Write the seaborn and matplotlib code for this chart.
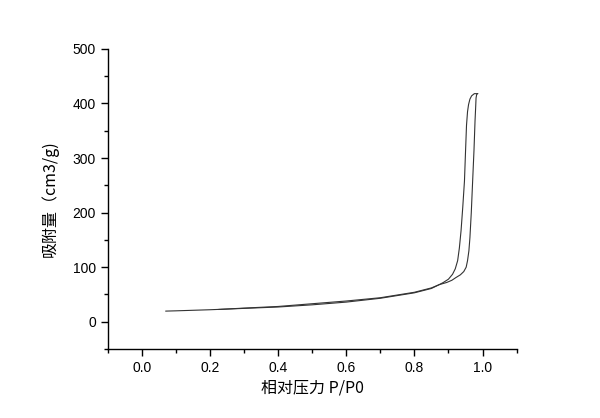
import matplotlib
matplotlib.use("Agg")
import matplotlib.pyplot as plt
import seaborn as sns
import pandas as pd
from matplotlib.ticker import MultipleLocator

ads_x = [0.07, 0.10, 0.20, 0.30, 0.40, 0.50, 0.60, 0.70, 0.80, 0.85, 0.873, 0.895, 0.91, 0.922, 0.935, 0.945,
         0.952, 0.956, 0.960, 0.963, 0.967, 0.971, 0.975, 0.978, 0.980, 0.981, 0.983, 0.986]
ads_y = [19.5, 20, 22, 24.5, 27, 31, 36, 43, 53, 61, 68, 72, 76, 81, 86, 92,
         100, 112, 130, 154, 200, 258, 315, 368, 395, 410, 417, 418]
des_x = [0.986, 0.976, 0.968, 0.963, 0.959, 0.956, 0.953, 0.950, 0.947, 0.942, 0.937, 0.932, 0.927, 0.920,
         0.912, 0.900, 0.885, 0.873, 0.85, 0.80, 0.70, 0.60, 0.50, 0.40, 0.30, 0.225]
des_y = [418, 418, 414, 408, 398, 385, 360, 310, 258, 210, 167, 135, 112, 97,
         87, 78, 72, 68, 62, 54, 44, 38, 33, 28, 25, 22.5]

xlabel = "相对压力 P/P0"
ylabel = "吸附量（cm3/g)"

sns.set_theme(style="ticks")
plt.rcParams['font.family'] = ['Liberation Sans', 'Noto Sans CJK SC', 'DejaVu Sans']

fig = plt.figure(figsize=(6, 4.18), dpi=100)
ax = fig.add_axes([0.1795, 0.165, 0.6815, 0.718])

ads = pd.DataFrame({"x": ads_x, "y": ads_y})
des = pd.DataFrame({"x": des_x, "y": des_y})
sns.lineplot(data=ads, x="x", y="y", sort=False, ax=ax, color="#333333", linewidth=0.8)
sns.lineplot(data=des, x="x", y="y", sort=False, ax=ax, color="#333333", linewidth=0.8)

ax.set_xlim(-0.1, 1.1)
ax.set_ylim(-50, 500)
ax.xaxis.set_minor_locator(MultipleLocator(0.1))
ax.yaxis.set_major_locator(MultipleLocator(100))
ax.yaxis.set_minor_locator(MultipleLocator(50))
ax.set_xticks([0.0, 0.2, 0.4, 0.6, 0.8, 1.0])
ax.set_xticklabels(["0.0", "0.2", "0.4", "0.6", "0.8", "1.0"])
ax.tick_params(which="major", length=5, width=1, labelsize=10, color="black", labelcolor="black", direction="out")
ax.tick_params(which="minor", length=3, width=1, color="black", direction="out")
for s in ["top", "right"]:
    ax.spines[s].set_visible(False)
for s in ["left", "bottom"]:
    ax.spines[s].set_linewidth(1)
    ax.spines[s].set_color("black")

ax.set_xlabel(xlabel, fontsize=11.5, labelpad=3, color="black", family=['Noto Sans CJK SC', 'DejaVu Sans'])
ax.set_ylabel(ylabel, fontsize=11.5, labelpad=10, color="black", family=['Noto Sans CJK SC', 'DejaVu Sans'])

fig.savefig("out.png", dpi=100, facecolor="white")
